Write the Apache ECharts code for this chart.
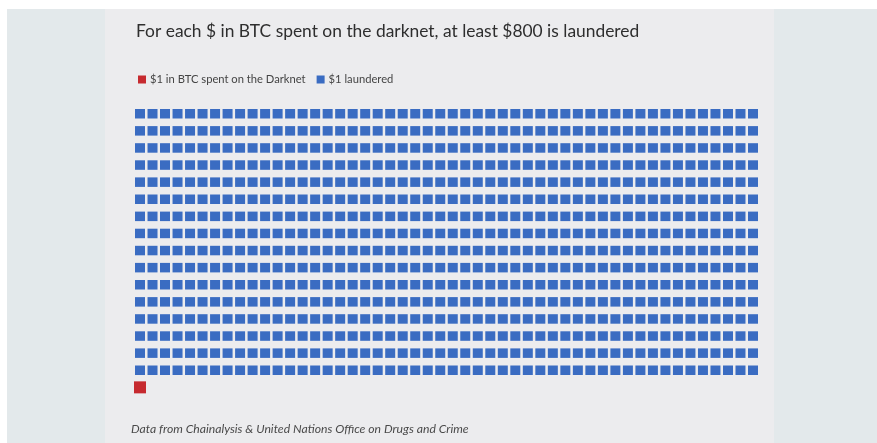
<!DOCTYPE html>
<html>
<head>
<meta charset="utf-8">
<script src="https://cdn.jsdelivr.net/npm/echarts@6/dist/echarts.min.js"></script>
<style>
html,body{margin:0;padding:0;background:#ffffff;}
#chart{width:877px;height:443px;}
</style>
</head>
<body>
<div id="chart"></div>
<script>
// ---- data ----
const titleText = 'For each $ in BTC spent on the darknet, at least $800 is laundered';
const sourceText = 'Data from Chainalysis & United Nations Office on Drugs and Crime';
const seriesNames = ['$1 in BTC spent on the Darknet', '$1 laundered'];
const seriesCounts = [1, 800];
const seriesColors = ['#c62a2f', '#3a6cc2'];
const columns = 50;
const launderedRows = 16;

// ---- build waffle cells ----
const launderedData = [];
for (let i = 0; i < seriesCounts[1]; i++) {
  launderedData.push([i % columns, Math.floor(i / columns)]);
}
const darknetData = [];
for (let i = 0; i < seriesCounts[0]; i++) {
  darknetData.push([i % columns, launderedRows + Math.floor(i / columns)]);
}

const chart = echarts.init(document.getElementById('chart'), null, {renderer: 'canvas'});
chart.setOption({
  animation: false,
  backgroundColor: '#ffffff',
  graphic: [
    {type: 'rect', z: -10, silent: true, shape: {x: 7, y: 9, width: 870, height: 434}, style: {fill: '#e3e9eb'}},
    {type: 'rect', z: -9, silent: true, shape: {x: 105, y: 9, width: 669, height: 434}, style: {fill: '#ececee'}},
    {type: 'text', left: 131, top: 423, style: {text: sourceText, font: 'italic 12.2px Lato', fill: '#4a4a4a'}}
  ],
  title: {
    text: titleText,
    left: 131,
    top: 18,
    textStyle: {fontFamily: 'Lato', fontSize: 17.4, fontWeight: 'normal', color: '#2e2e2e'}
  },
  legend: {
    left: 133,
    top: 69,
    icon: 'rect',
    itemWidth: 8,
    itemHeight: 8,
    itemGap: 11,
    textStyle: {fontFamily: 'Lato', fontSize: 11.2, color: '#444', padding: [0, 0, 0, -1]},
    data: seriesNames
  },
  grid: {left: 133.75, top: 105.2, width: 625.5, height: 290.7, containLabel: false},
  xAxis: {type: 'value', min: -0.5, max: columns - 0.5, show: false},
  yAxis: {type: 'value', min: -0.5, max: launderedRows + 0.5, inverse: true, show: false},
  series: [
    {
      name: seriesNames[0], type: 'scatter', symbol: 'rect', symbolSize: [12, 12],
      itemStyle: {color: seriesColors[0], opacity: 1}, data: darknetData
    },
    {
      name: seriesNames[1], type: 'scatter', symbol: 'rect', symbolSize: [10, 9.5],
      itemStyle: {color: seriesColors[1], opacity: 1}, data: launderedData
    }
  ]
});
</script>
</body>
</html>
